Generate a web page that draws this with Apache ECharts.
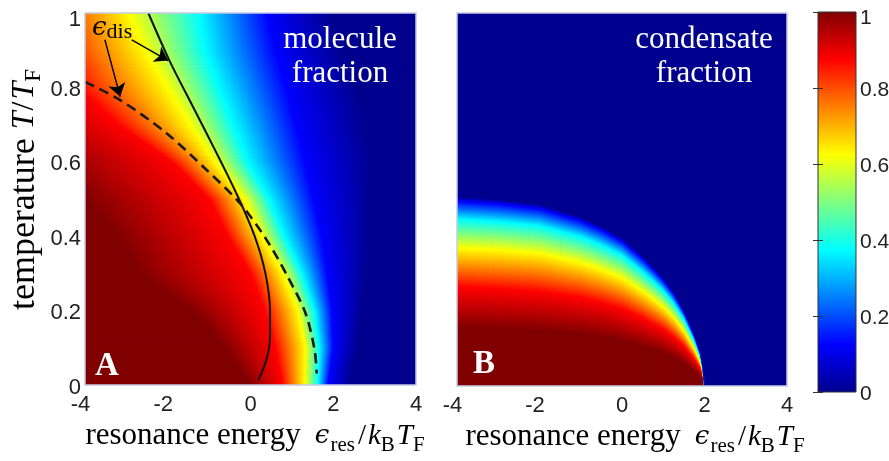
<!DOCTYPE html>
<html>
<head>
<meta charset="utf-8">
<title>molecule and condensate fraction</title>
<script src="https://cdn.jsdelivr.net/npm/echarts@6/dist/echarts.min.js"></script>
<style>
  html, body { margin: 0; padding: 0; background: #fff; }
  #chart { width: 889px; height: 461px; }
</style>
</head>
<body>
<div id="chart"></div>
<script>
// jet colormap breakpoints (fraction value -> colour)
const jetLevels = [1, 0.875, 0.625, 0.375, 0.125, 0];
const jetColors = ['#800000', '#ff0000', '#ffff00', '#00ffff', '#0000ff', '#00008f'];

// A: molecule fraction. For every temperature row, the resonance energy where
// the fraction has fallen to each jet level (points left of -4 follow the trend, the frame clips them)
const molTemps    = [0,    0.1,  0.2,  0.3,   0.4,   0.5,   0.6,   0.7,   0.8,   0.9,   1.0];
const molEdge100  = [0.0, -0.6, -1.4, -2.7,  -3.2,  -4.0,  -5.0,  -6.0,  -7.5,  -9.0,  -10.0];
const molEdge875  = [0.78, 0.6,  0.35, 0.0,  -0.55, -1.0,  -1.9,  -3.2,  -4.2,  -4.75, -5.0];
const molEdge625  = [1.31, 1.33, 1.15, 0.78,  0.27, -0.15, -0.86, -1.46, -2.0,  -2.55, -2.95];
const molEdge375  = [1.63, 1.66, 1.54, 1.24,  0.82,  0.45, -0.07, -0.42, -0.77, -1.1,  -1.25];
const molEdge125  = [1.87, 2.0,  1.97, 1.85,  1.72,  1.52,  1.32,  1.1,   0.86,  0.6,   0.4];
const molEdge0    = [2.4,  2.57, 2.72, 2.81,  2.88,  2.92,  2.9,   2.75,  2.55,  2.2,   1.95];

// B: condensate fraction. For every energy column, the temperature where the
// fraction has fallen to each jet level
const condEnergies = [-4,    -3,    -2,    -1,    -0.5,  0,     0.5,   0.75,  1,     1.25,  1.5,   1.75,  1.9,   1.96,  2.0];
const condEdge100  = [0.155, 0.153, 0.149, 0.139, 0.131, 0.121, 0.106, 0.098, 0.089, 0.077, 0.062, 0.042, 0.027, 0.015, 0];
const condEdge875  = [0.265, 0.26,  0.253, 0.236, 0.223, 0.206, 0.181, 0.166, 0.151, 0.131, 0.106, 0.072, 0.046, 0.026, 0];
const condEdge625  = [0.37,  0.365, 0.356, 0.331, 0.312, 0.29,  0.254, 0.234, 0.212, 0.184, 0.148, 0.10,  0.064, 0.036, 0];
const condEdge375  = [0.447, 0.44,  0.429, 0.399, 0.377, 0.35,  0.306, 0.282, 0.255, 0.222, 0.179, 0.121, 0.077, 0.044, 0];
const condEdge125  = [0.495, 0.488, 0.475, 0.442, 0.418, 0.387, 0.34,  0.312, 0.283, 0.246, 0.198, 0.135, 0.086, 0.049, 0];
const condEdge0    = [0.507, 0.50,  0.487, 0.453, 0.428, 0.397, 0.348, 0.32,  0.29,  0.252, 0.203, 0.138, 0.088, 0.05,  0];

// curves and arrows drawn over panel A, [energy, temperature]
const solidCurve  = [[-2.47, 1.0], [-1.95, 0.87], [-1.40, 0.75], [-0.85, 0.63], [-0.32, 0.51], [0.10, 0.40],
                     [0.36, 0.30], [0.47, 0.20], [0.47, 0.13], [0.39, 0.07], [0.19, 0.013]];
const dashedCurve = [[-4, 0.815], [-3.15, 0.766], [-2.03, 0.677], [-1.06, 0.578], [-0.25, 0.488], [0.39, 0.39],
                     [0.9, 0.291], [1.33, 0.193], [1.55, 0.094], [1.6, 0.031]];
const arrowToSolid  = [[-2.87, 0.928], [-1.99, 0.872]];
const arrowToDashed = [[-3.52, 0.928], [-3.15, 0.775]];

const energyTicks = [-4, 4, 2];
const tempTicks = [0, 1, 0.2];

// contour lines: first point lies deep in the dark red, then one point per jet level
const molLines = molTemps.map((t, i) => [[-12, t], [molEdge100[i], t], [molEdge875[i], t],
  [molEdge625[i], t], [molEdge375[i], t], [molEdge125[i], t], [molEdge0[i], t]]);
const condLines = condEnergies.map((e, i) => [[e, -0.2], [e, condEdge100[i]], [e, condEdge875[i]],
  [e, condEdge625[i]], [e, condEdge375[i]], [e, condEdge125[i]], [e, condEdge0[i]]]);

function lerp(p, q, t) {
  return [p[0] + (q[0] - p[0]) * t, p[1] + (q[1] - p[1]) * t];
}

// gradient across a quad, p1-p4 on the c1 contour and p2-p3 on the c2 contour
function bandGradient(p1, p2, p3, p4, c1, c2) {
  const m1 = lerp(p1, p4, 0.5), m2 = lerp(p2, p3, 0.5);
  let ux = p4[0] - p1[0] + p3[0] - p2[0];
  let uy = p4[1] - p1[1] + p3[1] - p2[1];
  const len = Math.hypot(ux, uy);
  let dx = m2[0] - m1[0], dy = m2[1] - m1[1];
  if (len > 1e-6) {
    ux /= len; uy /= len;
    const along = dx * ux + dy * uy;
    dx -= along * ux; dy -= along * uy;
  }
  if (Math.hypot(dx, dy) < 0.01) dx = 0.01;
  return new echarts.graphic.LinearGradient(m1[0], m1[1], m1[0] + dx, m1[1] + dy,
    [{ offset: 0, color: c1 }, { offset: 1, color: c2 }], true);
}

function quad(points, fill) {
  return { type: 'polygon', shape: { points: points }, style: { fill: fill, stroke: fill, lineWidth: 1 } };
}

function fieldSeries(axis, lines) {
  const slices = 8;
  return {
    type: 'custom', xAxisIndex: axis, yAxisIndex: axis, clip: true, silent: true, z: 1,
    data: lines.slice(1).map((_, i) => [i]),
    renderItem: function (params, api) {
      const a = lines[params.dataIndex].map(p => api.coord(p));
      const b = lines[params.dataIndex + 1].map(p => api.coord(p));
      const children = [];
      for (let s = 0; s < slices; s++) {
        const e0 = a.map((p, k) => lerp(p, b[k], s / slices));
        const e1 = a.map((p, k) => lerp(p, b[k], (s + 1) / slices));
        children.push(quad([e0[0], e0[1], e1[1], e1[0]], jetColors[0]));
        for (let k = 1; k < a.length - 1; k++) {
          const g = bandGradient(e0[k], e0[k + 1], e1[k + 1], e1[k], jetColors[k - 1], jetColors[k]);
          children.push(quad([e0[k], e0[k + 1], e1[k + 1], e1[k]], g));
        }
      }
      return { type: 'group', children: children };
    }
  };
}

function frameSeries(axis) {
  return {
    type: 'custom', xAxisIndex: axis, yAxisIndex: axis, silent: true, z: 6,
    data: [[0]],
    renderItem: function (params, api) {
      const p0 = api.coord([energyTicks[0], tempTicks[0]]);
      const p1 = api.coord([energyTicks[1], tempTicks[1]]);
      return { type: 'rect', shape: { x: p0[0], y: p1[1], width: p1[0] - p0[0], height: p0[1] - p1[1] },
        style: { fill: null, stroke: '#c3cbe3', lineWidth: 1.5 } };
    }
  };
}

const serif = 'Liberation Serif';
const tickStyle = { fontFamily: 'Liberation Sans', fontSize: 22, color: '#222' };

function nameStyles(main, math, sub) {
  return {
    a: { fontFamily: serif, fontSize: main, color: '#000', lineHeight: 40, verticalAlign: 'middle' },
    e: { fontFamily: 'DejaVu Serif', fontStyle: 'italic', fontSize: math - 3, color: '#000', lineHeight: 40,
         verticalAlign: 'middle', padding: [0, 1, 0, 14] },
    i: { fontFamily: serif, fontStyle: 'italic', fontSize: math, color: '#000', lineHeight: 40, verticalAlign: 'middle' },
    m: { fontFamily: serif, fontSize: math, color: '#000', lineHeight: 40, verticalAlign: 'middle', padding: [0, 2, 0, 1] },
    s: { fontFamily: serif, fontSize: sub, color: '#000', lineHeight: 24, verticalAlign: 'bottom', padding: [0, 2, 0, 0] }
  };
}
const xName = '{a|resonance energy}{e|ϵ}{s|res}{m|/}{i|k}{s|B}{i|T}{s|F}';
const yName = '{a|temperature }{i|T}{m|/}{i|T}{s|F}';

const xTickRich = {
  neg: Object.assign({}, tickStyle, { padding: [0, 9, 0, 0] }),
  pos: Object.assign({}, tickStyle)
};
const yTickRich = {
  top: Object.assign({}, tickStyle, { padding: [13, 0, 0, 0] }),
  n: Object.assign({}, tickStyle, { padding: [5, 0, 0, 0] })
};

function energyAxis(idx, padLeft) {
  return {
    gridIndex: idx, type: 'value', min: energyTicks[0], max: energyTicks[1], interval: energyTicks[2],
    axisLine: { show: false, onZero: false }, axisTick: { show: false }, splitLine: { show: false },
    axisLabel: Object.assign({}, tickStyle, { margin: 9, rich: xTickRich,
      formatter: v => v < 0 ? '{neg|' + v + '}' : '{pos|' + v + '}' }),
    name: xName, nameLocation: 'middle', nameGap: 31, nameMoveOverlap: false,
    nameTextStyle: { rich: nameStyles(31, 29, 21), padding: [0, 0, 0, padLeft] }
  };
}

function tempAxis(idx, showLabels) {
  const ax = {
    gridIndex: idx, type: 'value', min: tempTicks[0], max: tempTicks[1], interval: tempTicks[2],
    axisLine: { show: false, onZero: false }, axisTick: { show: false }, splitLine: { show: false },
    axisLabel: Object.assign({}, tickStyle, { show: showLabels, margin: 4, rich: yTickRich,
      formatter: v => v === 1 ? '{top|1}' : '{n|' + v + '}' })
  };
  if (showLabels) {
    Object.assign(ax, { name: yName, nameLocation: 'middle', nameGap: 40, nameMoveOverlap: false,
      nameTextStyle: { rich: nameStyles(36, 32, 23), padding: [0, 0, 0, 21] } });
  }
  return ax;
}

const barTick = { show: true, inside: true, length: 5, lineStyle: { color: '#333', width: 1 } };
const barLabelStyle = Object.assign({}, tickStyle, { fontSize: 21 });

const option = {
  animation: false,
  backgroundColor: '#fff',
  grid: [
    { left: 85, top: 13, width: 331, height: 372, show: true, backgroundColor: '#00008f', borderWidth: 0, outerBoundsMode: 'none' },
    { left: 457, top: 13, width: 330, height: 373, show: true, backgroundColor: '#00008f', borderWidth: 0, outerBoundsMode: 'none' },
    { left: 818, top: 12, width: 38, height: 380, outerBoundsMode: 'none' }
  ],
  xAxis: [
    energyAxis(0, 11),
    energyAxis(1, 28),
    { gridIndex: 2, type: 'value', min: 0, max: 1, show: false }
  ],
  yAxis: [
    tempAxis(0, true),
    tempAxis(1, false),
    { gridIndex: 2, type: 'value', min: 0, max: 1, interval: 0.2, position: 'right', z: 10,
      axisLine: { show: false }, axisTick: barTick, splitLine: { show: false },
      axisLabel: Object.assign({}, barLabelStyle, { margin: 4,
        rich: { top: Object.assign({}, barLabelStyle, { padding: [13, 0, 0, 0] }),
                n: Object.assign({}, barLabelStyle, { padding: [4, 0, 0, 0] }) },
        formatter: v => v === 1 ? '{top|1}' : '{n|' + v + '}' }) },
    { gridIndex: 2, type: 'value', min: 0, max: 1, interval: 0.2, position: 'left', z: 10,
      axisLine: { show: false }, axisTick: barTick, splitLine: { show: false }, axisLabel: { show: false } }
  ],
  series: [
    fieldSeries(0, molLines),
    fieldSeries(1, condLines),
    frameSeries(0),
    frameSeries(1),
    {
      type: 'custom', xAxisIndex: 2, yAxisIndex: 2, silent: true, z: 2,
      data: [[0]],
      renderItem: function (params, api) {
        const p0 = api.coord([0, 0]), p1 = api.coord([1, 1]);
        const stops = jetLevels.map((v, k) => ({ offset: (p0[1] - api.coord([0, v])[1]) / (p0[1] - p1[1]), color: jetColors[k] }))
          .sort((m, n) => m.offset - n.offset);
        return { type: 'rect', shape: { x: p0[0], y: p1[1], width: p1[0] - p0[0], height: p0[1] - p1[1] },
          style: { fill: new echarts.graphic.LinearGradient(0, p0[1], 0, p1[1], stops, true), stroke: '#333', lineWidth: 1 } };
      }
    },
    {
      type: 'line', xAxisIndex: 0, yAxisIndex: 0, data: solidCurve, showSymbol: false, smooth: 0.3, silent: true, z: 4,
      lineStyle: { color: '#111', width: 2 }
    },
    {
      type: 'line', xAxisIndex: 0, yAxisIndex: 0, data: dashedCurve, showSymbol: false, smooth: 0.3, silent: true, z: 4,
      lineStyle: { color: '#1a1a1a', width: 2.6, type: [10, 6] }
    },
    {
      type: 'lines', coordinateSystem: 'cartesian2d', xAxisIndex: 0, yAxisIndex: 0, silent: true, z: 5,
      symbol: ['none', 'arrow'], symbolSize: 13,
      lineStyle: { color: '#000', width: 1.4, opacity: 1, curveness: 0 },
      data: [{ coords: arrowToSolid }, { coords: arrowToDashed }]
    }
  ],
  graphic: [
    { type: 'text', x: 340, y: 57, silent: true, z: 10,
      style: { text: 'molecule\nfraction', fill: '#fff', fontFamily: serif, fontSize: 31, lineHeight: 34,
               align: 'center', verticalAlign: 'middle' } },
    { type: 'text', x: 704, y: 57, silent: true, z: 10,
      style: { text: 'condensate\nfraction', fill: '#fff', fontFamily: serif, fontSize: 31, lineHeight: 34,
               align: 'center', verticalAlign: 'middle' } },
    { type: 'text', x: 95, y: 366, silent: true, z: 10,
      style: { text: 'A', fill: '#fff', fontFamily: serif, fontWeight: 'bold', fontSize: 33,
               align: 'left', verticalAlign: 'middle' } },
    { type: 'text', x: 473, y: 364, silent: true, z: 10,
      style: { text: 'B', fill: '#fff', fontFamily: serif, fontWeight: 'bold', fontSize: 33,
               align: 'left', verticalAlign: 'middle' } },
    { type: 'text', x: 92, y: 28, silent: true, z: 10,
      style: { text: '{e|ϵ}{s|dis}', align: 'left', verticalAlign: 'middle',
               rich: {
                 e: { fontFamily: 'DejaVu Serif', fontStyle: 'italic', fontSize: 26, fill: '#000', lineHeight: 30, verticalAlign: 'middle' },
                 s: { fontFamily: serif, fontSize: 22, fill: '#000', lineHeight: 18, verticalAlign: 'bottom' }
               } } }
  ]
};

const chart = echarts.init(document.getElementById('chart'));
chart.setOption(option);
</script>
</body>
</html>
